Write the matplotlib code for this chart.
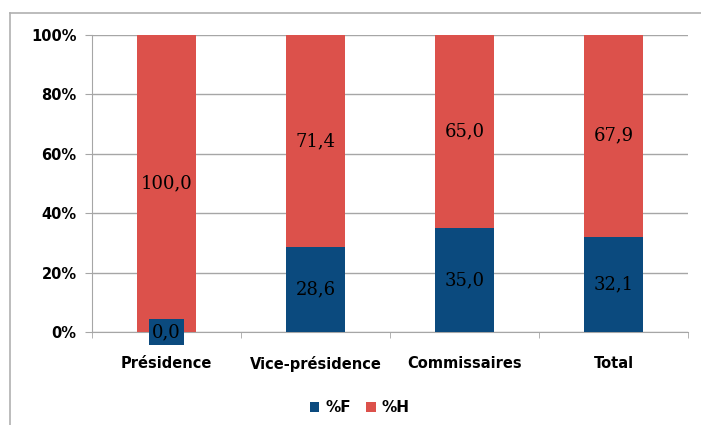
import numpy as np
import matplotlib.pyplot as plt
from matplotlib.lines import Line2D
from matplotlib.ticker import FuncFormatter

# data
categories = ['Présidence', 'Vice-présidence', 'Commissaires', 'Total']
pct_f = [0.0, 28.6, 35.0, 32.1]
pct_h = [100.0, 71.4, 65.0, 67.9]
series_names = ['%F', '%H']

blue = '#0b4a7e'
red = '#dc514b'
grid_col = '#a6a6a6'

fig = plt.figure(figsize=(7.01, 4.25), dpi=100)

# outer frame (left + top lines)
fig.add_artist(Line2D([10/701, 10/701], [0, 1 - 13/425], color='#b0b0b0', lw=1.2))
fig.add_artist(Line2D([10/701, 1], [1 - 13/425, 1 - 13/425], color='#b0b0b0', lw=1.2))

ax = fig.add_axes([92/701, 93/425, 596/701, 297/425])
x = np.arange(len(categories))
w = 0.4
ax.bar(x, pct_f, w, color=blue, label=series_names[0], zorder=3)
ax.bar(x, pct_h, w, bottom=pct_f, color=red, label=series_names[1], zorder=3)

lab_font = dict(fontsize=13, family='DejaVu Serif', zorder=5)
for i in range(len(categories)):
    if pct_f[i] == 0:
        # zero value: label sits on the axis with a blue box
        ax.text(x[i], 0, f'{pct_f[i]:.1f}'.replace('.', ','), ha='center', va='center',
                clip_on=False, bbox=dict(boxstyle='square,pad=0.2', fc=blue, ec='none'),
                **lab_font)
    else:
        ax.text(x[i], pct_f[i] / 2, f'{pct_f[i]:.1f}'.replace('.', ','), ha='center',
                va='center', **lab_font)
    ax.text(x[i], pct_f[i] + pct_h[i] / 2, f'{pct_h[i]:.1f}'.replace('.', ','), ha='center',
            va='center', **lab_font)

ax.set_xlim(-0.5, len(categories) - 0.5)
ax.set_ylim(0, 100)
ax.set_yticks(np.arange(0, 101, 20))
ax.yaxis.set_major_formatter(FuncFormatter(lambda v, p: f'{int(v)}%'))
ax.set_xticks(x)
ax.set_xticklabels(categories, fontweight='bold', fontsize=10.5)
ax.set_xticks(np.arange(-0.5, len(categories)), minor=True)
ax.tick_params(axis='x', which='major', length=0, pad=17)
ax.tick_params(axis='x', which='minor', length=4, color=grid_col, direction='out')
ax.tick_params(axis='y', length=5, color=grid_col, pad=6)
for lab in ax.get_yticklabels():
    lab.set_fontweight('bold')
    lab.set_fontsize(10.5)
ax.grid(axis='y', color=grid_col, lw=1, zorder=0)
for s in ['top', 'right']:
    ax.spines[s].set_visible(False)
for s in ['left', 'bottom']:
    ax.spines[s].set_color(grid_col)

leg = fig.legend(loc='center', bbox_to_anchor=(360/701, 1 - 408/425), ncol=2, frameon=False,
                 handlelength=0.6, handleheight=0.6, handletextpad=0.4, columnspacing=1.0,
                 prop={'weight': 'bold', 'size': 11})

fig.savefig('out.png', dpi=100)
